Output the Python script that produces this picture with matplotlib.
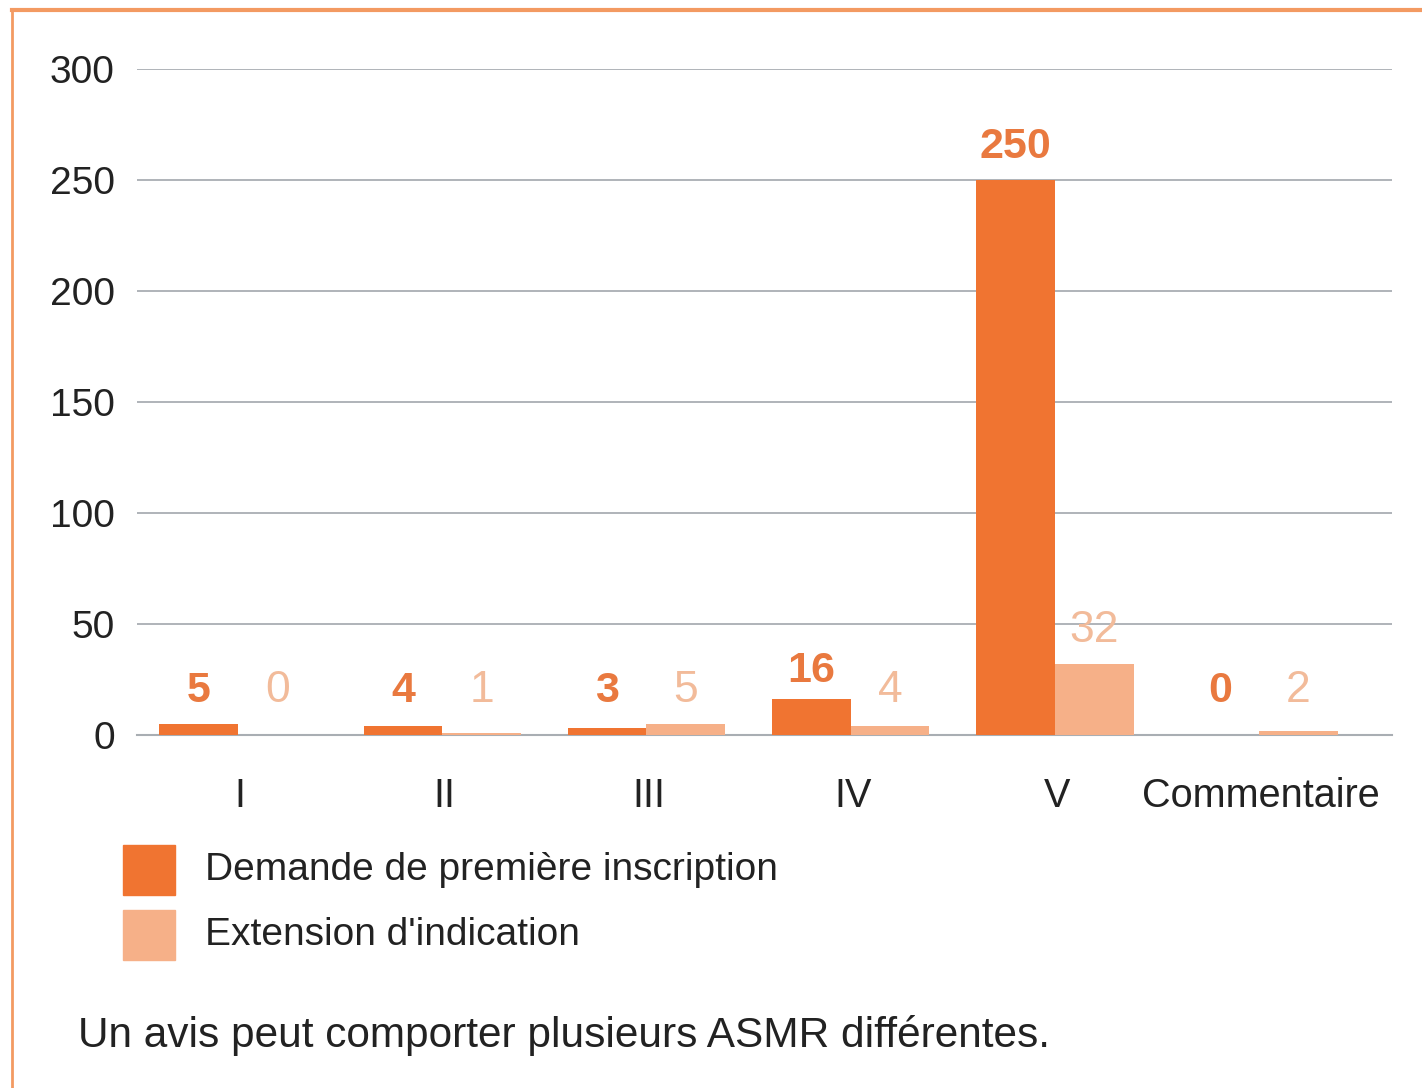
import matplotlib
matplotlib.use("Agg")
import matplotlib.pyplot as plt
from matplotlib.patches import Rectangle
from matplotlib.lines import Line2D
import numpy as np

categories = ["I", "II", "III", "IV", "V", "Commentaire"]
premiere = [5, 4, 3, 16, 250, 0]
extension = [0, 1, 5, 4, 32, 2]
series_names = ["Demande de première inscription", "Extension d'indication"]
yticks = [0, 50, 100, 150, 200, 250, 300]
footnote = "Un avis peut comporter plusieurs ASMR différentes."

DARK = "#F07431"
LIGHT = "#F6B088"
DARK_TXT = "#E9793F"
LIGHT_TXT = "#F2BB9A"
GRID = "#A9AEB3"

narrow = ["Liberation Sans Narrow", "Liberation Sans", "DejaVu Sans"]
regular = ["Liberation Sans", "DejaVu Sans"]

fig = plt.figure(figsize=(14.22, 10.88), dpi=100)
fig.patch.set_facecolor("white")
ax = fig.add_axes([137/1422, 1-735/1088, (1392-137)/1422, (735-69)/1088])

x = np.arange(len(categories))
w = 0.385
ax.bar(x - w/2, premiere, width=w, color=DARK, zorder=3)
ax.bar(x + w/2, extension, width=w, color=LIGHT, zorder=3)

def label_y(v):
    if v > 20:
        return v + 15
    return max(20, v + 13)

for xi, v in zip(x, premiere):
    ax.text(xi - w/2, label_y(v), str(v), ha="center", va="center",
            fontsize=31, fontweight="bold", color=DARK_TXT, family=regular, zorder=4)
for xi, v in zip(x, extension):
    ax.text(xi + w/2, label_y(v), str(v), ha="center", va="center",
            fontsize=32, color=LIGHT_TXT, family=regular, zorder=4)

ax.set_xlim(-0.494, 5.65)
ax.set_ylim(0, 300)
ax.set_yticks(yticks)
ax.set_yticklabels([str(t) for t in yticks], family=narrow, fontsize=28, color="#222222")
ax.set_xticks(x + 0.01)
ax.set_xticklabels(categories, family=narrow, fontsize=28.5, color="#222222")
ax.tick_params(axis="both", length=0)
ax.tick_params(axis="y", pad=16)
ax.tick_params(axis="x", pad=30)
ax.grid(axis="y", color=GRID, linewidth=1.3, zorder=0)
ax.set_axisbelow(True)
for s in ["top", "right", "left"]:
    ax.spines[s].set_visible(False)
ax.spines["bottom"].set_color(GRID)
ax.spines["bottom"].set_linewidth(1.5)
ax.spines["bottom"].set_zorder(2)

# legend
for i, (name, col) in enumerate(zip(series_names, [DARK, LIGHT])):
    yc = 870 + i * 65
    fig.patches.append(Rectangle((123/1422, 1 - (yc + 25)/1088), 52/1422, 50/1088,
                                 transform=fig.transFigure, color=col))
    fig.text(205/1422, 1 - yc/1088, name, family=narrow, fontsize=28,
             color="#222222", ha="left", va="center")

fig.text(78/1422, 1 - 1035/1088, footnote, family=regular, fontsize=30.5,
         color="#222222", ha="left", va="center")

# frame lines
fig.add_artist(Line2D([12/1422, 1], [1 - 10/1088, 1 - 10/1088], transform=fig.transFigure,
                      color="#F39A62", linewidth=3))
fig.add_artist(Line2D([12/1422, 12/1422], [1 - 10/1088, 0], transform=fig.transFigure,
                      color="#F39A62", linewidth=2))

fig.savefig("out.png", dpi=100, facecolor="white")
